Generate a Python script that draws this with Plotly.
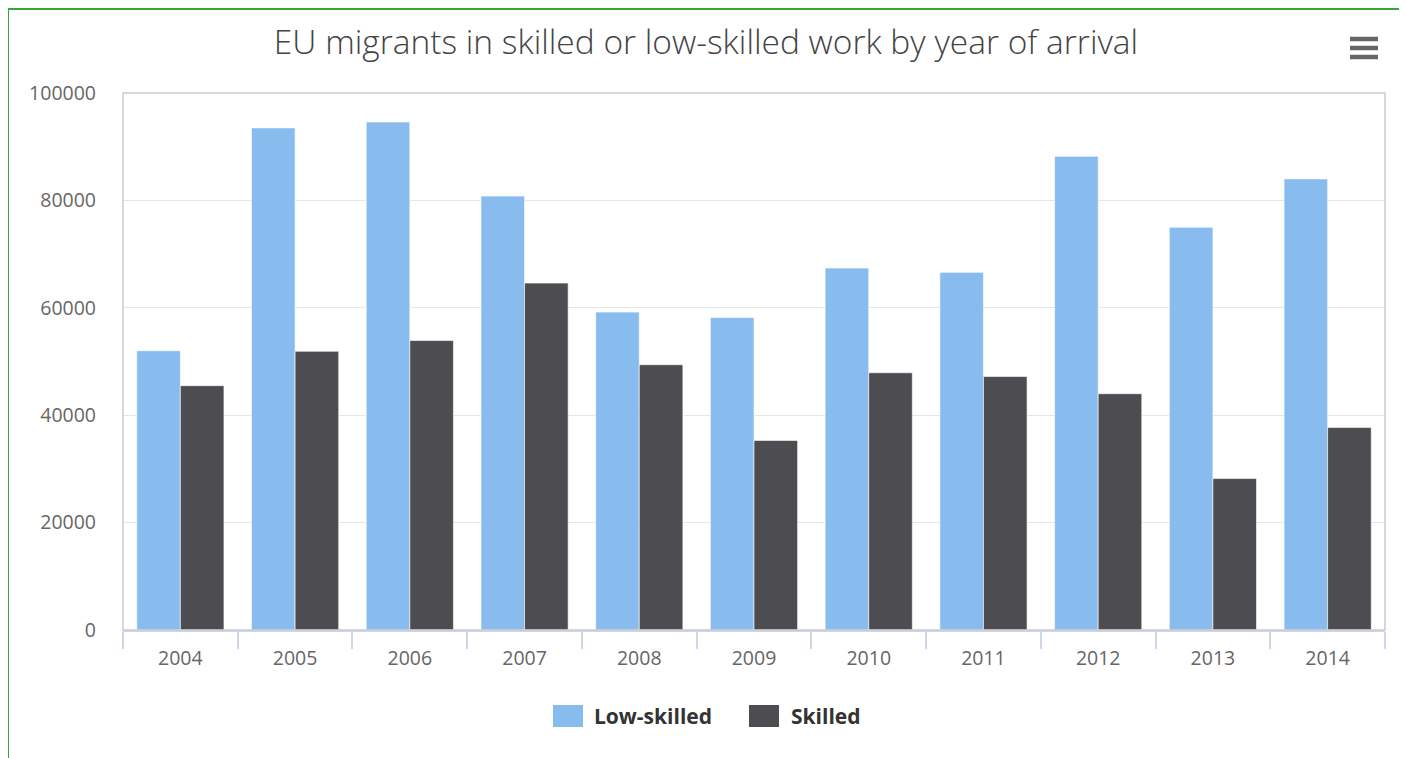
import plotly.graph_objects as go

years = ["2004", "2005", "2006", "2007", "2008", "2009", "2010", "2011", "2012", "2013", "2014"]
low_skilled = [52000, 93500, 94600, 80800, 59200, 58200, 67400, 66600, 88200, 75000, 84000]
skilled = [45500, 51900, 53900, 64600, 49400, 35300, 47900, 47200, 44000, 28200, 37700]
series_names = ["Low-skilled", "Skilled"]
series_colors = ["#88bbee", "#4c4c51"]

# page body has an 8px margin; figure coordinates are screen - 8
OFF = 8
W, H = 1392, 750
L, R, T, B = 123 - OFF, 1385 - OFF, 93 - OFF, 630 - OFF
pw, ph = R - L, B - T

def px(x):
    return (x - OFF - L) / pw

def py(y):
    return (B - (y - OFF)) / ph

fig = go.Figure()
for name, vals, col in zip(series_names, [low_skilled, skilled], series_colors):
    fig.add_trace(go.Bar(x=years, y=vals, name=name, marker_color=col,
                         marker_line_width=0.6, marker_line_color="white", showlegend=False))

shapes = [
    dict(type="rect", xref="paper", yref="paper", x0=0, x1=1, y0=0, y1=1,
         line=dict(color="#cccccc", width=1.5), layer="above"),
    dict(type="rect", xref="paper", yref="paper", x0=px(8), x1=px(1400), y0=py(820), y1=py(9),
         line=dict(color="#3aa63a", width=2)),
]
for yy in (39, 48, 57):
    shapes.append(dict(type="line", xref="paper", yref="paper", x0=px(1350), x1=px(1378),
                       y0=py(yy), y1=py(yy), line=dict(color="#666666", width=4.5)))

# custom legend: symbol boxes + text labels
annotations = []
legend_items = [(553, 583, 592), (749, 779, 789)]
for (sx0, sx1, tx), name, col in zip(legend_items, series_names, series_colors):
    shapes.append(dict(type="rect", xref="paper", yref="paper", x0=px(sx0), x1=px(sx1),
                       y0=py(727), y1=py(705), fillcolor=col, line=dict(width=0)))
    annotations.append(dict(text="<b>" + name + "</b>", xref="paper", yref="paper",
                            x=px(tx), y=py(716), xanchor="left", yanchor="middle",
                            showarrow=False,
                            font=dict(size=21, color="#333333", family="Open Sans, sans-serif")))

fig.update_layout(
    width=W, height=H,
    margin=dict(l=L, r=W - R, t=T, b=H - B),
    paper_bgcolor="white", plot_bgcolor="white",
    font=dict(family="Open Sans, Noto Sans, sans-serif", color="#666666"),
    title=dict(text="EU migrants in skilled or low-skilled work by year of arrival",
               x=(706 - OFF) / W, xanchor="center", xref="container",
               y=1 - (42 - OFF) / H, yanchor="middle", yref="container",
               font=dict(size=33.5, color="#444444", family="Open Sans, sans-serif", weight=300)),
    barmode="group", bargap=0.24, bargroupgap=0,
    xaxis=dict(type="category", showgrid=False, showline=True, linecolor="#ccd6eb", linewidth=1.5,
               ticks="outside", ticklen=17, tickcolor="#ccd6eb", tickwidth=1.5,
               tickson="boundaries", ticklabelstandoff=10, tickfont=dict(size=19.5, color="#666666")),
    yaxis=dict(range=[0, 100000], dtick=20000, tickformat="d", showgrid=True,
               gridcolor="#e6e6e6", gridwidth=1.2, zeroline=False, showline=False,
               ticks="", ticklabelstandoff=26, tickfont=dict(size=19.5, color="#666666")),
    shapes=shapes,
    annotations=annotations,
)

fig.write_html("out.html")
